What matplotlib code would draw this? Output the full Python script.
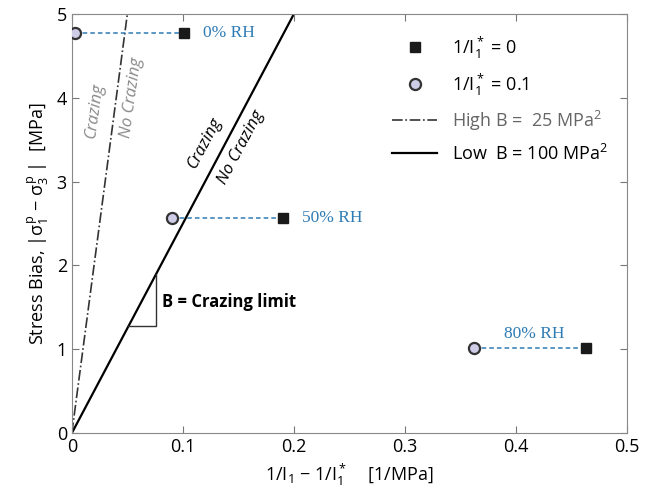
import numpy as np
import matplotlib
matplotlib.use('Agg')
import matplotlib.pyplot as plt

plt.rcParams['font.family'] = ['Open Sans', 'DejaVu Sans']
plt.rcParams['mathtext.fontset'] = 'custom'
plt.rcParams['mathtext.rm'] = 'Open Sans'
plt.rcParams['mathtext.it'] = 'Open Sans'
plt.rcParams['mathtext.bf'] = 'Open Sans:bold'

# measured points (1/I1 - 1/I1*, stress bias) at each humidity
rh_labels = ['0% RH', '50% RH', '80% RH']
x_square = [0.101, 0.19, 0.463]   # 1/I1* = 0
x_circle = [0.003, 0.09, 0.362]   # 1/I1* = 0.1
y_bias = [4.77, 2.57, 1.01]

# crazing limit lines
line_x = [0.0, 0.5]
slope_high = 100.0   # High B = 25 MPa^2
slope_low = 25.0     # Low B = 100 MPa^2

blue = '#2f7cb5'
gray = '#8a8a8a'

fig = plt.figure(figsize=(6.53, 5.03), dpi=100)
ax = fig.add_axes([0.110, 0.139, 0.850, 0.833])

# dashed connectors
for xs, xc, y in zip(x_square, x_circle, y_bias):
    ax.plot([xc, xs], [y, y], linestyle=(0, (3, 2)), color=blue, linewidth=1.1, zorder=2)

lx = np.array(line_x)
ax.plot(lx, slope_high * lx, linestyle='-.', color='#333333', linewidth=1.2,
        label='High B =  25 MPa$^2$', zorder=1)
ax.plot(lx, slope_low * lx, linestyle='-', color='black', linewidth=1.6,
        label='Low  B = 100 MPa$^2$', zorder=1)

ax.plot(x_square, y_bias, linestyle='none', marker='s', markersize=7, color='#1a1a1a',
        label='1/I$_1^*$ = 0', zorder=3)
ax.plot(x_circle, y_bias, linestyle='none', marker='o', markersize=8,
        markerfacecolor='#cfcce8', markeredgecolor='#333333', markeredgewidth=1.6,
        label='1/I$_1^*$ = 0.1', zorder=3)

# RH labels
ax.text(x_square[0] + 0.017, y_bias[0], rh_labels[0], color=blue, family='Liberation Serif',
        fontsize=12.5, va='center', ha='left')
ax.text(x_square[1] + 0.017, y_bias[1], rh_labels[1], color=blue, family='Liberation Serif',
        fontsize=12.5, va='center', ha='left')
ax.text(0.417, y_bias[2] + 0.17, rh_labels[2], color=blue, family='Liberation Serif',
        fontsize=12.5, va='center', ha='center')

# slope triangle
ax.plot([0.051, 0.076, 0.076], [1.28, 1.28, 1.9], color='#333333', linewidth=1.0)
ax.text(0.081, 1.56, 'B = Crazing limit', fontsize=12, fontweight='bold', va='center', ha='left')

# crazing region labels
ax.text(0.12, 3.46, 'Crazing', rotation=62, style='italic', fontsize=12,
        ha='center', va='center')
ax.text(0.152, 3.41, 'No Crazing', rotation=62, style='italic', fontsize=12,
        ha='center', va='center')
ax.text(0.021, 3.85, 'Crazing', rotation=82, style='italic', fontsize=12, color=gray,
        ha='center', va='center')
ax.text(0.054, 4.0, 'No Crazing', rotation=82, style='italic', fontsize=12, color=gray,
        ha='center', va='center')

ax.set_xlim(0, 0.5)
ax.set_ylim(0, 5)
ax.set_xticks([0, 0.1, 0.2, 0.3, 0.4, 0.5])
ax.set_xticklabels(['0', '0.1', '0.2', '0.3', '0.4', '0.5'])
ax.set_yticks([0, 1, 2, 3, 4, 5])
ax.tick_params(direction='in', top=True, right=True, labelsize=13, color='#777777', length=5)
for s in ax.spines.values():
    s.set_color('#888888')

ax.set_xlabel('1/I$_1$ $-$ 1/I$_1^*$    [1/MPa]', fontsize=13)
ax.set_ylabel('Stress Bias, |$\\sigma_1^p$ $-$ $\\sigma_3^p$ |  [MPa]', fontsize=13)

handles, labels = ax.get_legend_handles_labels()
order = [2, 3, 0, 1]
leg = ax.legend([handles[i] for i in order], [labels[i] for i in order],
                loc='upper right', bbox_to_anchor=(0.995, 0.99), frameon=False,
                fontsize=13, handlelength=2.5, labelspacing=0.6)
leg.get_texts()[2].set_color('#666666')

fig.savefig('out.png', dpi=100)
